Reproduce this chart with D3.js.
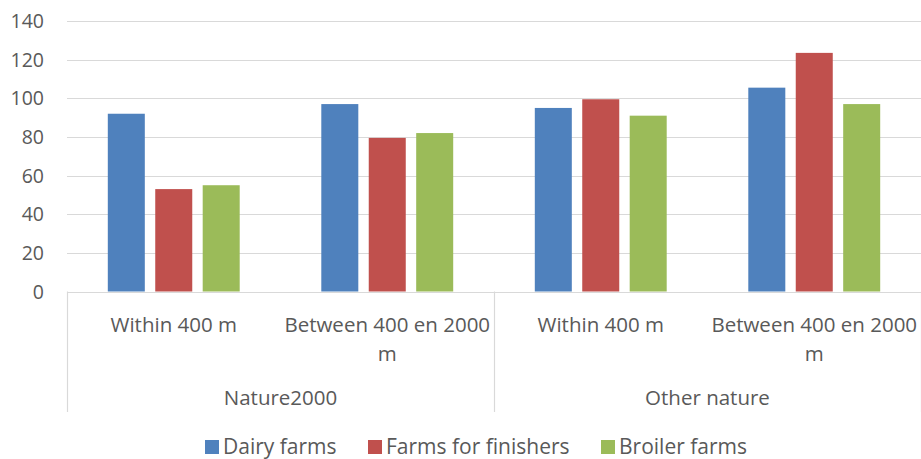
<!DOCTYPE html>
<html>
<head>
<meta charset="utf-8">
<script src="https://cdn.jsdelivr.net/npm/d3@7"></script>
<style>
  html, body { margin: 0; padding: 0; background: #ffffff; }
  svg { display: block; }
  text { font-family: "Open Sans", "Liberation Sans", sans-serif; fill: #595959; }
</style>
</head>
<body>
<svg id="chart" width="921" height="459"></svg>
<script>
// Categories: inner distance labels grouped under nature types
const groups = ["Nature2000", "Other nature"];
const categories = ["N2000 within", "N2000 between", "Other within", "Other between"];
const categoryLabel = ["Within 400 m", "Between 400 en 2000 m", "Within 400 m", "Between 400 en 2000 m"];

// Series values
const seriesNames = ["Dairy farms", "Farms for finishers", "Broiler farms"];
const dairy = [92, 97, 95, 105.5];
const finishers = [53, 79.5, 99.5, 123.5];
const broiler = [55, 82, 91, 97];
const seriesColors = ["#4f81bd", "#c0504d", "#9bbb59"];

// Y axis ticks
const yTicks = [0, 20, 40, 60, 80, 100, 120, 140];

const seriesValues = [dairy, finishers, broiler];
const rows = categories.map((c, i) => ({
  key: c,
  values: seriesNames.map((s, j) => ({ series: s, value: seriesValues[j][i], color: seriesColors[j] }))
}));

const svg = d3.select("#chart");
const margin = { left: 67, right: 0, top: 21, bottom: 167.5 };
const W = 921, H = 459;
const plotBottom = H - margin.bottom;

const x = d3.scaleBand().domain(categories).range([margin.left, W - margin.right]).paddingInner(0).paddingOuter(0);
const x1 = d3.scaleBand().domain(seriesNames).range([0, x.bandwidth()]).paddingInner(0.22).paddingOuter(0.86);
const y = d3.scaleLinear().domain([0, 140]).range([plotBottom, margin.top]);

// Gridlines
svg.append("g")
  .selectAll("line")
  .data(yTicks)
  .join("line")
  .attr("x1", margin.left).attr("x2", W - margin.right)
  .attr("y1", d => Math.round(y(d)) + 0.5).attr("y2", d => Math.round(y(d)) + 0.5)
  .attr("stroke", "#d9d9d9").attr("stroke-width", 1.2);

// Y tick labels
svg.append("g")
  .selectAll("text")
  .data(yTicks)
  .join("text")
  .attr("x", 44).attr("y", d => y(d))
  .attr("dy", "0.36em")
  .attr("text-anchor", "end")
  .style("font-size", "19.5px")
  .text(d => d);

// Bars
const gBars = svg.append("g");
gBars.selectAll("g")
  .data(rows)
  .join("g")
  .attr("transform", d => `translate(${x(d.key)},0)`)
  .selectAll("rect")
  .data(d => d.values)
  .join("rect")
  .attr("x", d => x1(d.series))
  .attr("width", x1.bandwidth())
  .attr("y", d => y(d.value))
  .attr("height", d => y(0) - y(d.value))
  .attr("fill", d => d.color);

// Category axis: group separators
const sepX = [margin.left, margin.left + 2 * x.bandwidth(), W - margin.right];
svg.append("g")
  .selectAll("line")
  .data(sepX)
  .join("line")
  .attr("x1", d => Math.round(d) + 0.5).attr("x2", d => Math.round(d) + 0.5)
  .attr("y1", plotBottom).attr("y2", 412)
  .attr("stroke", "#d9d9d9").attr("stroke-width", 1.2);

// Wrap a label into lines fitting the band width
function wrap(textSel, width) {
  textSel.each(function () {
    const t = d3.select(this);
    const words = t.text().split(/\s+/);
    const xPos = t.attr("x");
    t.text(null);
    let line = [];
    let tspan = t.append("tspan").attr("x", xPos).attr("dy", 0);
    words.forEach(w => {
      line.push(w);
      tspan.text(line.join(" "));
      if (tspan.node().getComputedTextLength() > width && line.length > 1) {
        line.pop();
        tspan.text(line.join(" "));
        line = [w];
        tspan = t.append("tspan").attr("x", xPos).attr("dy", "1.4em").text(w);
      }
    });
  });
}

svg.append("g")
  .selectAll("text")
  .data(categories)
  .join("text")
  .attr("x", (d) => x(d) + x.bandwidth() / 2)
  .attr("y", 332)
  .attr("text-anchor", "middle")
  .style("font-size", "20.5px")
  .text((d, i) => categoryLabel[i])
  .call(wrap, x.bandwidth());

// Group labels
svg.append("g")
  .selectAll("text")
  .data(groups)
  .join("text")
  .attr("x", (d, i) => margin.left + (2 * i + 1) * x.bandwidth())
  .attr("y", 405)
  .attr("text-anchor", "middle")
  .style("font-size", "20.5px")
  .text(d => d);

// Legend
const legendX = [205, 368, 601];
const lg = svg.append("g");
seriesNames.forEach((s, i) => {
  lg.append("rect").attr("x", legendX[i]).attr("y", 440).attr("width", 14).attr("height", 14).attr("fill", seriesColors[i]);
  lg.append("text").attr("x", legendX[i] + 18).attr("y", 453.5).style("font-size", "21px").text(s);
});
</script>
</body>
</html>
